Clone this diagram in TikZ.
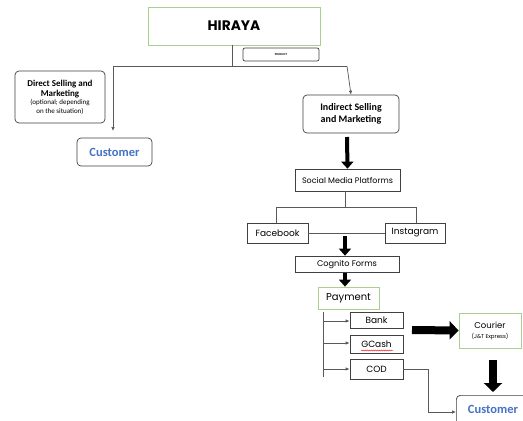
\documentclass[tikz,border=0pt]{standalone}
\usepackage{fontspec}
\setmainfont{Carlito}
\newfontfamily\geo{Poppins}
\usetikzlibrary{arrows.meta,decorations.pathmorphing}
\definecolor{gbord}{HTML}{A9D18E}
\definecolor{dbord}{HTML}{404040}
\definecolor{lnk}{HTML}{595959}
\definecolor{cblue}{HTML}{4472C4}
\tikzset{
  gbox/.style={draw=gbord,line width=0.8pt,inner sep=0pt},
  rbox/.style={draw=dbord,line width=0.7pt,rounded corners=4pt,inner sep=0pt},
  sbox/.style={draw=dbord,line width=0.7pt,inner sep=0pt},
  conn/.style={draw=lnk,line width=0.7pt},
  carr/.style={conn,-{Latex[length=4pt,width=3.5pt]}},
  fat/.style={line width=4pt,-{Triangle[length=7pt,width=12pt]}},
  fatbig/.style={line width=8pt,-{Triangle[length=9pt,width=18pt]}},
  custxt/.style={text=cblue,font=\bfseries\fontsize{12.5}{14}\selectfont},
}
\begin{document}
\begin{tikzpicture}[x=1pt,y=-1pt]
\useasboundingbox (0,0) rectangle (523,421);
\fill[white] (0,0) rectangle (523,421);
% HIRAYA
\node[gbox,minimum width=172pt,minimum height=38pt] (hir) at (234,26) {\geo\bfseries\fontsize{13.8}{16}\selectfont HIRAYA};
\node[sbox,rounded corners=2pt,minimum width=76pt,minimum height=13pt] (prod) at (281,54.5) {\fontsize{3}{3}\selectfont\bfseries PRODUCT};
\coordinate (j1) at (232,66);
\coordinate (jl) at (113,66);
\coordinate (jr) at (347,66);
% Direct
\node[rbox,minimum width=90pt,minimum height=52pt,align=center,font=\fontsize{9}{10}\selectfont] (dir) at (60,97)
 {\textbf{Direct Selling and}\\ \textbf{Marketing}\\[-1.5pt]
  {\fontsize{7}{8.5}\selectfont (optional; depending}\\[-1.5pt] {\fontsize{7}{8.5}\selectfont on the situation)}};
\node[rbox,minimum width=75pt,minimum height=28pt,custxt] (cus1) at (114.5,152) {Customer};
% Indirect
\node[rbox,minimum width=96pt,minimum height=38pt,align=center,font=\bfseries\fontsize{10}{12}\selectfont] (ind) at (351,114)
 {Indirect Selling\\ and Marketing};
\draw[conn] (hir.south -| j1) -- (j1);
\draw[conn] (jl) -- (jr);
\draw[carr] (jl) -- (113,131);
\draw[carr] (jr) -- (ind.north);
% Social
\node[sbox,minimum width=105pt,minimum height=22pt] (soc) at (347.5,180) {\geo\fontsize{8}{10}\selectfont Social Media Platforms};
\draw[fat] (347,137) -- (soc.north);
\node[sbox,minimum width=61pt,minimum height=20pt] (fb) at (277.5,233) {\geo\fontsize{9}{11}\selectfont Facebook};
\node[sbox,minimum width=60pt,minimum height=20pt] (ig) at (415,233) {\geo\fontsize{9}{11}\selectfont Instagram};
\coordinate (j2) at (345,207);
\draw[conn] (soc.south -| j2) -- (j2);
\draw[conn] (276,207) -- (416,207);
\draw[conn] (276,207) -- (fb.north -| 276,0);
\draw[conn] (416,207) -- (ig.north -| 416,0);
\draw[conn] (fb.east) -- (ig.west);
\node[sbox,minimum width=104pt,minimum height=16pt] (cog) at (347,264) {\geo\fontsize{8.2}{10}\selectfont Cognito Forms};
\draw[fat] (345,236) -- (cog.north -| 345,0);
\node[gbox,minimum width=61pt,minimum height=22pt] (pay) at (348.5,298) {\geo\fontsize{10}{12}\selectfont Payment};
\draw[fat] (345,273) -- (pay.north -| 345,0);
% payment options
\node[sbox,minimum width=53pt,minimum height=16pt] (bank) at (376.5,320) {\geo\fontsize{9}{11}\selectfont Bank};
\node[sbox,minimum width=53pt,minimum height=18pt] (gc) at (376.5,344) {\geo\fontsize{9}{11}\selectfont GCash};
\node[sbox,minimum width=53pt,minimum height=20pt] (cod) at (376.5,369) {\geo\fontsize{9}{11}\selectfont COD};
\draw[red,line width=0.4pt,decorate,decoration={snake,amplitude=0.5pt,segment length=2pt}] (361,350.5) -- (393,350.5);
\coordinate (pv) at (323,312);
\draw[conn] (pv) -- (323,377);
\draw[carr] (323,321) -- (bank.west |- 0,321);
\draw[carr] (323,343) -- (gc.west |- 0,343);
\draw[carr] (323,369) -- (cod.west);
% courier
\node[gbox,minimum width=62pt,minimum height=35pt,align=center] (cour) at (490,330.5)
 {\geo\fontsize{8.5}{10}\selectfont Courier\\[-2pt] \geo\fontsize{5.5}{6}\selectfont (J\&T Express)};
\draw[fatbig] (412,330) -- (cour.west);
\node[rbox,minimum width=80pt,minimum height=40pt,anchor=north west] (cus2) at (456,395) {};
\node[custxt] (cus2t) at (493,409) {Customer};
\draw[fatbig] (493,360) -- (493,392);
\draw[carr] (cod.east) -| (428,412) -- (cus2.west |- 0,412);
\end{tikzpicture}
\end{document}
